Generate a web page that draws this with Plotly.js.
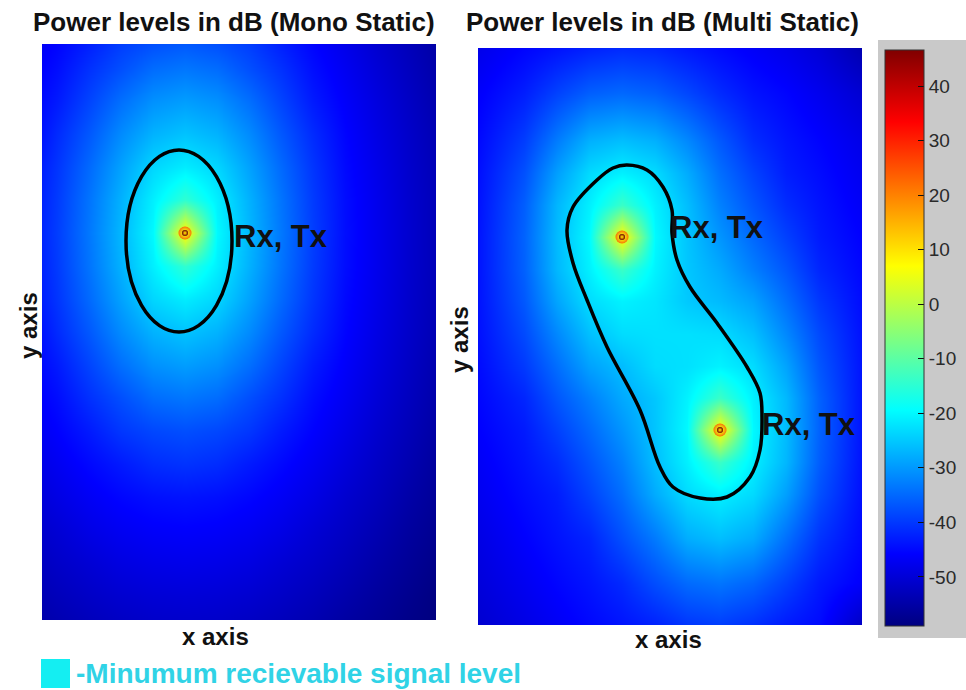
<!DOCTYPE html>
<html>
<head>
<meta charset="utf-8">
<script src="https://cdn.plot.ly/plotly-3.0.1.min.js"></script>
<style>html,body{margin:0;padding:0;background:#fff;}#chart{width:966px;height:690px;}</style>
</head>
<body>
<div id="chart"></div>
<script>
// ---------- data ----------
// Mono static panel: grid node positions (panel pixels) and power in dB
const monoX = [0,15,47,79,111,143,175,207,239,271,303,335,367,394];
const monoY = [0,25,57,90,123,156,189,222,255,288,321,354,387,420,453,486,519,552,576];
const monoPower = [
 [-46.6,-45.5,-42.6,-39.5,-37.6,-36.6,-37.6,-39.5,-42.6,-45.5,-48.0,-50.7,-53.0,-55.0],
 [-45.8,-44.5,-40.8,-37.6,-34.6,-33.5,-34.6,-37.6,-40.8,-44.5,-47.2,-50.0,-52.5,-54.6],
 [-44.8,-43.2,-38.8,-34.3,-30.8,-29.5,-30.8,-34.3,-38.8,-43.2,-46.3,-49.2,-51.9,-54.1],
 [-43.9,-41.5,-36.7,-31.4,-27.3,-25.6,-27.3,-31.4,-36.7,-41.5,-45.5,-48.6,-51.4,-53.6],
 [-42.7,-40.4,-34.9,-29.0,-23.6,-21.3,-23.6,-29.0,-34.9,-40.4,-45.0,-48.1,-51.1,-53.3],
 [-42.2,-39.8,-33.8,-27.4,-21.0,-14.5,-21.0,-27.4,-33.8,-39.8,-44.6,-47.8,-50.9,-53.1],
 [-41.9,-39.5,-33.4,-26.8,-19.9,  8.0,-19.9,-26.8,-33.4,-39.5,-44.5,-47.7,-50.8,-53.1],
 [-42.2,-39.8,-33.8,-27.4,-21.0,-14.5,-21.0,-27.4,-33.8,-39.8,-44.6,-47.8,-50.9,-53.1],
 [-42.7,-40.4,-34.9,-29.0,-23.6,-21.3,-23.6,-29.0,-34.9,-40.4,-45.0,-48.1,-51.1,-53.3],
 [-43.9,-41.5,-36.7,-31.4,-27.3,-25.6,-27.3,-31.4,-36.7,-41.5,-45.5,-48.6,-51.4,-53.6],
 [-44.8,-43.2,-38.8,-34.3,-30.8,-29.5,-30.8,-34.3,-38.8,-43.2,-46.3,-49.2,-51.9,-54.1],
 [-45.8,-44.6,-40.9,-37.7,-34.6,-33.6,-34.6,-37.7,-40.9,-44.6,-47.2,-50.0,-52.5,-54.6],
 [-46.9,-45.8,-43.2,-40.2,-38.5,-37.7,-38.5,-40.2,-43.2,-45.8,-48.3,-50.9,-53.2,-55.2],
 [-48.2,-47.2,-45.1,-43.2,-41.3,-40.6,-41.3,-43.2,-45.1,-47.2,-49.5,-51.8,-54.0,-55.9],
 [-49.6,-48.6,-46.8,-45.3,-44.3,-43.9,-44.3,-45.3,-46.8,-48.6,-50.8,-52.7,-54.9,-56.5],
 [-51.0,-50.2,-48.4,-47.1,-46.3,-46.0,-46.3,-47.1,-48.4,-50.2,-51.9,-53.8,-55.8,-57.2],
 [-52.3,-51.5,-50.2,-48.9,-48.2,-47.9,-48.2,-48.9,-50.2,-51.5,-53.1,-54.9,-56.6,-58.0],
 [-53.6,-52.9,-51.7,-50.7,-50.1,-49.9,-50.1,-50.7,-51.7,-52.9,-54.4,-56.0,-57.5,-58.8],
 [-54.6,-53.9,-52.8,-51.9,-51.3,-51.1,-51.3,-51.9,-52.8,-53.9,-55.4,-56.7,-58.1,-59.0]
];
// Multi static panel
const multiX = [0,46,79,111,144,177,209,242,275,308,341,384];
const multiY = [0,45,93,125,157,189,221,253,286,318,350,382,414,446,490,535,577];
const multiPower = [
 [-48.0,-45.5,-44.0,-42.5,-41.5,-42.0,-43.5,-45.0,-46.5,-48.0,-50.0,-54.0],
 [-46.2,-42.8,-39.0,-36.0,-35.0,-36.0,-38.5,-41.5,-44.0,-45.5,-47.5,-50.5],
 [-45.0,-39.5,-32.9,-27.5,-26.0,-27.5,-31.6,-36.7,-41.3,-43.8,-45.6,-48.2],
 [-44.4,-37.5,-29.3,-23.2,-20.9,-23.1,-28.0,-34.4,-39.0,-42.9,-44.7,-47.4],
 [-44.1,-36.1,-26.9,-21.0,-13.5,-20.9,-26.1,-32.5,-37.1,-41.3,-43.9,-46.7],
 [-43.9,-35.6,-26.4,-20.0,  8.0,-19.9,-25.4,-30.4,-35.0,-39.2,-43.2,-45.9],
 [-43.9,-35.8,-26.7,-20.9,-13.4,-20.7,-25.2,-28.3,-32.7,-36.9,-42.0,-45.3],
 [-44.0,-36.7,-28.7,-23.0,-20.7,-22.0,-25.0,-26.5,-29.1,-34.4,-40.1,-44.7],
 [-44.3,-38.2,-31.7,-26.0,-23.0,-22.5,-22.5,-23.0,-25.9,-31.7,-38.2,-44.2],
 [-44.8,-39.9,-34.4,-29.1,-26.3,-23.0,-22.5,-20.7,-23.0,-28.9,-36.9,-43.9],
 [-45.3,-42.0,-36.9,-32.7,-28.3,-25.2,-20.7,-13.4,-20.9,-26.7,-35.7,-43.9],
 [-45.9,-43.2,-39.2,-35.0,-30.4,-25.4,-19.9,  8.0,-20.0,-26.4,-35.6,-43.9],
 [-46.7,-43.9,-41.3,-37.1,-32.5,-26.1,-20.9,-13.5,-21.0,-26.9,-36.1,-44.1],
 [-47.4,-44.7,-42.9,-39.0,-34.4,-28.0,-23.1,-20.9,-23.2,-29.3,-37.5,-44.4],
 [-48.6,-45.9,-44.0,-42.2,-37.6,-33.1,-27.8,-26.1,-28.1,-34.2,-40.5,-45.1],
 [-49.6,-47.2,-45.4,-43.8,-41.6,-37.8,-34.8,-33.7,-35.4,-39.2,-43.3,-46.3],
 [-50.7,-48.5,-46.8,-45.2,-43.8,-42.4,-40.3,-39.5,-40.9,-43.2,-44.8,-52.0]
];
// Rx/Tx positions (panel pixels)
const monoSrcX = [143];
const monoSrcY = [189];
const multiSrcX = [144, 242];
const multiSrcY = [189, 382];
const srcLabel = "Rx, Tx";
// Minimum receivable level outlines
const monoBoundary = [84, 190, 106, 288]; // x0, x1, y0, y1
const multiBoundaryX = [149,169,185,194,194,199,212,239,269,282,284,282,272,249,222,195,182,162,129,109,95,89,95,119,135,149];
const multiBoundaryY = [117,122,139,162,185,212,239,275,319,345,369,402,429,449,450,439,419,362,299,252,215,182,159,132,120,117];
// Colour bar
const cbTicks = [-50,-40,-30,-20,-10,0,10,20,30,40];
const cbRange = [-59, 46.6];
const titles = ["Power levels in dB (Mono Static)", "Power levels in dB (Multi Static)"];
const legendText = "-Minumum recievable signal level";

// ---------- drawing ----------
const W = 966, H = 690;
const px = v => v / W;
const py = v => 1 - v / H;
const jet = [[0,'#000080'],[0.125,'#0000ff'],[0.375,'#00ffff'],[0.625,'#ffff00'],[0.875,'#ff0000'],[1,'#800000']];
const FONT = 'Liberation Sans, Arial, sans-serif';

function hotspots(xs, ys, xa, ya) {
  return [
    {type:'scatter', mode:'markers', x: xs, y: ys, xaxis: xa, yaxis: ya, hoverinfo:'skip',
     marker:{size:13, color:'rgba(255,90,0,0.9)', line:{width:0}, gradient:{type:'radial', color:'rgba(255,220,0,0)'}}},
    {type:'scatter', mode:'markers', x: xs, y: ys, xaxis: xa, yaxis: ya, hoverinfo:'skip',
     marker:{size:6, color:'#5a0000', line:{width:0}, gradient:{type:'radial', color:'rgba(200,10,0,0)'}}}
  ];
}

const traces = [
  {type:'heatmap', x: monoX, y: monoY, z: monoPower, xaxis:'x', yaxis:'y',
   colorscale: jet, zmin: cbRange[0], zmax: cbRange[1], zsmooth:'best', showscale:false, hoverinfo:'skip'},
  {type:'heatmap', x: multiX, y: multiY, z: multiPower, xaxis:'x2', yaxis:'y2',
   colorscale: jet, zmin: cbRange[0], zmax: cbRange[1], zsmooth:'best', showscale:true, hoverinfo:'skip',
   colorbar: {x: px(885), xanchor:'left', xref:'paper', y: py(338), yanchor:'middle', yref:'paper',
     len: 576/H, lenmode:'fraction', thickness: 39, thicknessmode:'pixels',
     xpad:0, ypad:0, outlinewidth:1, outlinecolor:'#333',
     tickmode:'array', tickvals: cbTicks, ticktext: cbTicks.map(String),
     ticks:'inside', ticklen:6, tickwidth:1, tickcolor:'#111',
     tickfont:{family: FONT, size:19, color:'#2a2a2a'}}},
  ...hotspots(monoSrcX, monoSrcY, 'x', 'y'),
  ...hotspots(multiSrcX, multiSrcY, 'x2', 'y2'),
  // multi static outline
  {type:'scatter', mode:'lines', x: multiBoundaryX, y: multiBoundaryY, xaxis:'x2', yaxis:'y2', hoverinfo:'skip',
   line:{color:'#000', width:3.5, shape:'spline', smoothing:1}}
];

const axBase = {showgrid:false, zeroline:false, showticklabels:false, ticks:'', showline:false, fixedrange:true};
const layout = {
  width: W, height: H, margin:{l:0,r:0,t:0,b:0}, showlegend:false,
  paper_bgcolor:'#ffffff', plot_bgcolor:'#ffffff',
  xaxis: Object.assign({}, axBase, {domain:[px(42), px(436)], range:[0, 394], anchor:'y'}),
  yaxis: Object.assign({}, axBase, {domain:[py(620), py(44)], range:[576, 0], anchor:'x'}),
  xaxis2: Object.assign({}, axBase, {domain:[px(478), px(862)], range:[0, 384], anchor:'y2'}),
  yaxis2: Object.assign({}, axBase, {domain:[py(625), py(48)], range:[577, 0], anchor:'x2'}),
  shapes: [
    {type:'rect', xref:'paper', yref:'paper', x0:px(878), x1:1, y0:py(638), y1:py(40), fillcolor:'#c9c9c9', line:{width:0}, layer:'below'},
    {type:'circle', xref:'x', yref:'y', x0:monoBoundary[0], x1:monoBoundary[1], y0:monoBoundary[2], y1:monoBoundary[3], line:{color:'#000', width:3.5}},
    {type:'rect', xref:'paper', yref:'paper', x0:px(41), x1:px(70), y0:py(688), y1:py(659), fillcolor:'#14eef2', line:{width:0}}
  ],
  annotations: [
    {text: titles[0], xref:'paper', yref:'paper', x:px(234), y:py(22), xanchor:'center', yanchor:'middle', showarrow:false, font:{family:FONT, size:26, color:'#111', weight:'bold'}},
    {text: titles[1], xref:'paper', yref:'paper', x:px(662), y:py(22), xanchor:'center', yanchor:'middle', showarrow:false, font:{family:FONT, size:26, color:'#111', weight:'bold'}},
    {text:'x axis', xref:'paper', yref:'paper', x:px(215), y:py(636), xanchor:'center', yanchor:'middle', showarrow:false, font:{family:FONT, size:24, color:'#111', weight:'bold'}},
    {text:'x axis', xref:'paper', yref:'paper', x:px(668), y:py(639), xanchor:'center', yanchor:'middle', showarrow:false, font:{family:FONT, size:24, color:'#111', weight:'bold'}},
    {text:'y axis', xref:'paper', yref:'paper', x:px(28), y:py(326), xanchor:'center', yanchor:'middle', textangle:-90, showarrow:false, font:{family:FONT, size:24, color:'#111', weight:'bold'}},
    {text:'y axis', xref:'paper', yref:'paper', x:px(459), y:py(340), xanchor:'center', yanchor:'middle', textangle:-90, showarrow:false, font:{family:FONT, size:24, color:'#111', weight:'bold'}},
    {text: srcLabel, xref:'x', yref:'y', x: monoBoundary[1], y: monoSrcY[0] + 3, xanchor:'left', yanchor:'middle', showarrow:false, font:{family:FONT, size:31, color:'#111', weight:'bold'}},
    {text: srcLabel, xref:'x2', yref:'y2', x: 190, y: multiSrcY[0] - 10, xanchor:'left', yanchor:'middle', showarrow:false, font:{family:FONT, size:31, color:'#111', weight:'bold'}},
    {text: srcLabel, xref:'x2', yref:'y2', x: 282, y: multiSrcY[1] - 6, xanchor:'left', yanchor:'middle', showarrow:false, font:{family:FONT, size:31, color:'#111', weight:'bold'}},
    {text: legendText, xref:'paper', yref:'paper', x:px(74), y:py(673), xanchor:'left', yanchor:'middle', showarrow:false, font:{family:FONT, size:28, color:'#30d3e6', weight:'bold'}}
  ]
};

Plotly.newPlot('chart', traces, layout, {staticPlot:true, displayModeBar:false});
</script>
</body>
</html>
